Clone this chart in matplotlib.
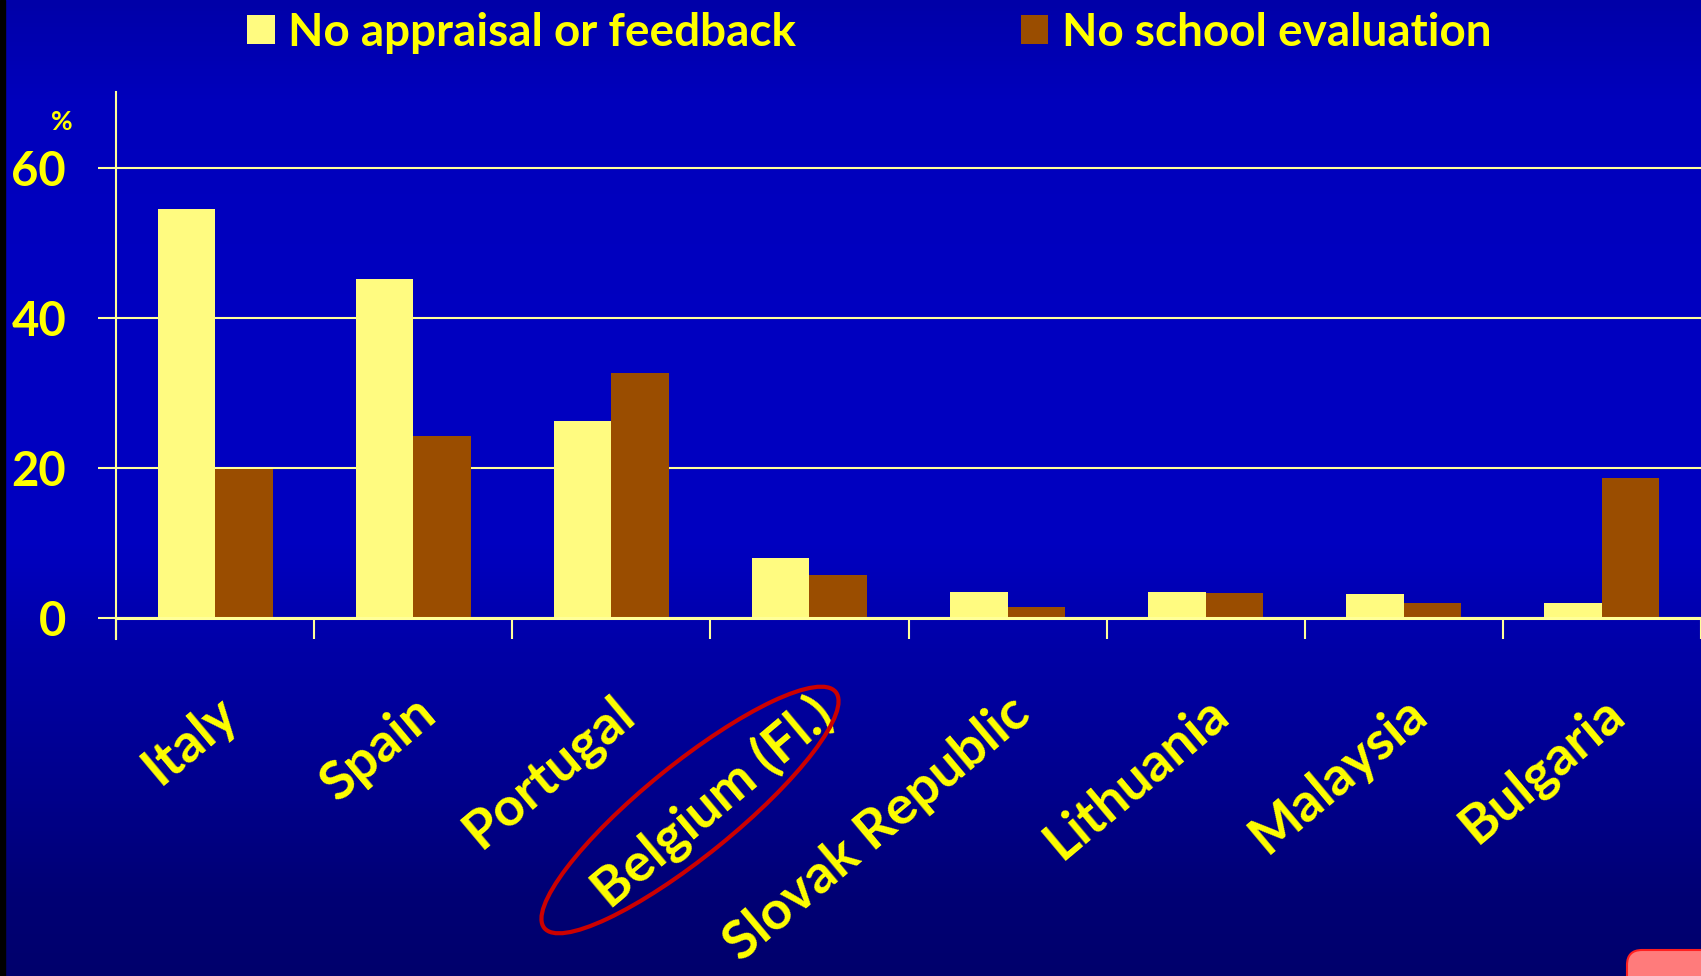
import numpy as np
import matplotlib
matplotlib.use("Agg")
import matplotlib.pyplot as plt
from matplotlib.colors import LinearSegmentedColormap
from matplotlib.patches import Ellipse, FancyBboxPatch, Rectangle

countries = ["Italy", "Spain", "Portugal", "Belgium (Fl.)", "Slovak Republic",
             "Lithuania", "Malaysia", "Bulgaria"]
no_appraisal = [54.5, 45.2, 26.3, 8.0, 3.5, 3.5, 3.2, 2.0]
no_school_eval = [19.8, 24.3, 32.6, 5.7, 1.5, 3.3, 2.0, 18.6]
series_labels = ["No appraisal or feedback", "No school evaluation"]
yticks = [0, 20, 40, 60]

YELLOW = "#FFFF00"
PALE = "#FFFB80"
LINE = "#FFFF99"
BROWN = "#9A4D00"
FONT = "Lato"

W, H = 1701, 976
fig = plt.figure(figsize=(W / 100, H / 100), dpi=100)

# slide background: vertical blue gradient
bg = fig.add_axes([0, 0, 1, 1], zorder=-10)
grad = LinearSegmentedColormap.from_list("slide", [
    (0.0, "#0000A8"), (0.1, "#0000BC"), (0.3, "#0000C0"), (0.56, "#0000C0"),
    (0.67, "#0000A6"), (0.82, "#00008A"), (0.92, "#000074"), (1.0, "#00006C")])
bg.imshow(np.linspace(0, 1, 256).reshape(-1, 1), aspect="auto", cmap=grad,
          extent=[0, 1, 0, 1], origin="upper")
bg.add_patch(Rectangle((0, 0), 5 / W, 1, color="black"))
bg.set_xlim(0, 1)
bg.set_ylim(0, 1)
bg.axis("off")

ax = fig.add_axes([116 / W, 0.3449, 1 - 116 / W, 0.5606])
ax.set_facecolor("none")

x = np.arange(len(countries))
w = 0.29
b1 = ax.bar(x - w / 2, no_appraisal, w, color=PALE, label=series_labels[0], zorder=3)
b2 = ax.bar(x + w / 2, no_school_eval, w, color=BROWN, label=series_labels[1], zorder=3)

ax.set_xlim(-0.5, 7.45)
ax.set_ylim(-2.85, 70.1)

for s in ["top", "right"]:
    ax.spines[s].set_visible(False)
ax.spines["left"].set_color(LINE)
ax.spines["left"].set_linewidth(1.5)
ax.spines["bottom"].set_position(("data", 0))
ax.spines["bottom"].set_color(LINE)
ax.spines["bottom"].set_linewidth(2.2)
ax.spines["bottom"].set_zorder(4)

ax.set_yticks(yticks)
ax.yaxis.grid(True, color=LINE, linewidth=1.5, zorder=1)
ax.tick_params(axis="y", length=13, width=1.5, color=LINE, pad=23,
               labelcolor=YELLOW, labelsize=34)
for lab in ax.get_yticklabels():
    lab.set_fontweight("bold")
    lab.set_fontfamily(FONT)

ax.set_xticks(x)
ax.set_xticks(np.arange(-0.5, 8, 1), minor=True)
ax.set_xticklabels(countries, rotation=40, ha="right", rotation_mode="anchor",
                   fontsize=39, fontweight="bold", color=YELLOW, family=FONT)
ax.tick_params(axis="x", which="major", length=0, pad=50)
ax.tick_params(axis="x", which="minor", length=15, width=1.5, color=LINE)

fig.text(62 / W, 1 - 122 / H, "%", color=YELLOW, fontsize=19, fontweight="bold",
         family=FONT, ha="center", va="center")

leg = fig.legend(handles=[b1, b2], loc="upper left", bbox_to_anchor=(247 / W, 1 - 12 / H),
                 ncol=2, frameon=False, borderpad=0, borderaxespad=0,
                 handlelength=0.6, handleheight=0.6, handletextpad=0.3,
                 columnspacing=4.9, prop={"family": FONT, "weight": "bold", "size": 33})
for t in leg.get_texts():
    t.set_color(YELLOW)

# highlight around Belgium (Fl.)
fig.add_artist(Ellipse((6.90, 1.66), 3.75, 0.92, angle=39, transform=fig.dpi_scale_trans,
                       fill=False, edgecolor="#CC0000", linewidth=3))

# corner button
fig.add_artist(FancyBboxPatch((16.27, -0.5), 1.2, 0.76, boxstyle="round,pad=0,rounding_size=0.15",
                              transform=fig.dpi_scale_trans, facecolor="#FF7B7B",
                              edgecolor="#FF2020", linewidth=1.5))

fig.savefig("out.png", dpi=100)
